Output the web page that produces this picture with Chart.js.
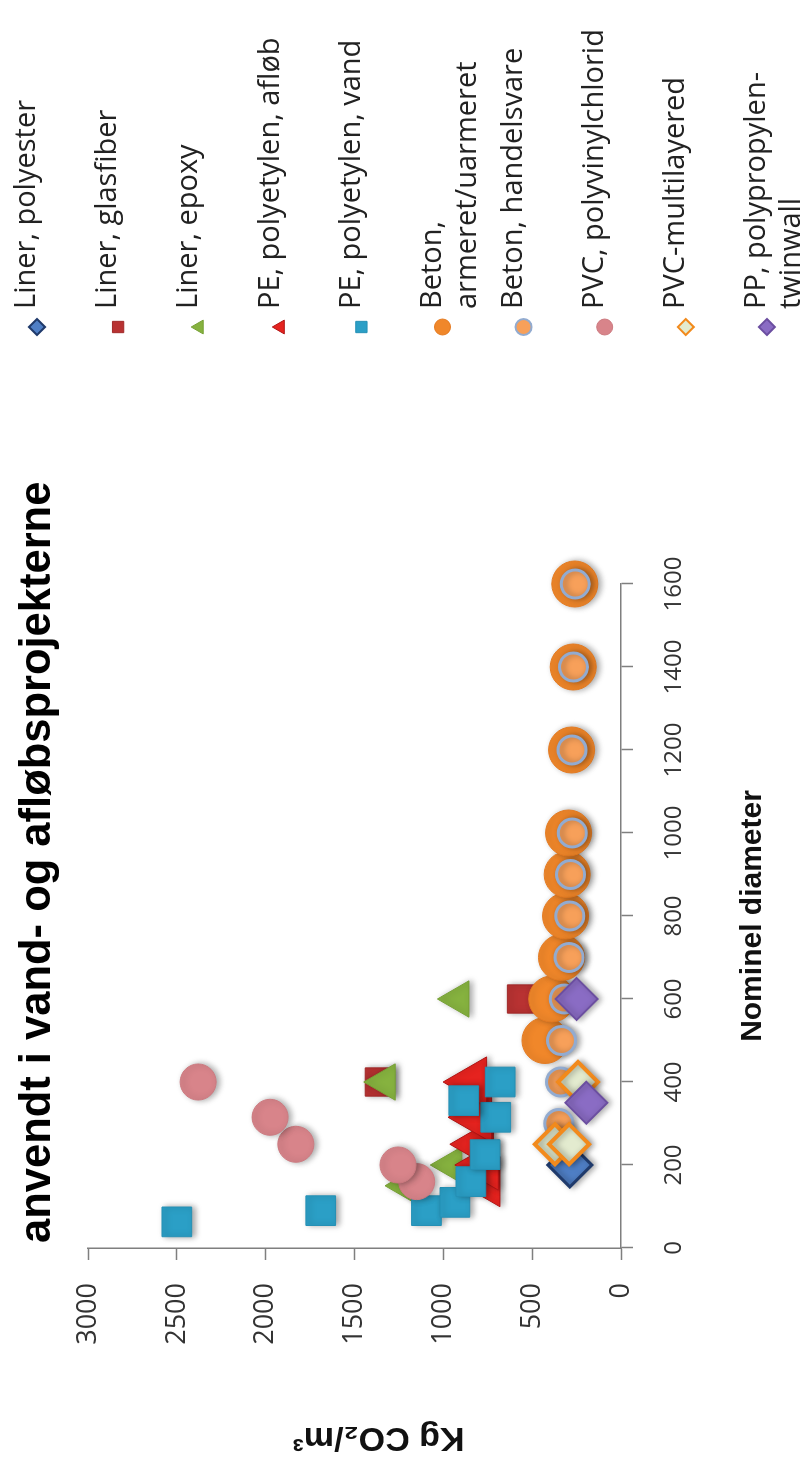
<!DOCTYPE html>
<html lang="da">
<head>
<meta charset="UTF-8">
<title>Kg CO2/m3 efter nominel diameter</title>
<script src="https://cdn.jsdelivr.net/npm/chart.js"></script>
<style>
  html, body { margin: 0; padding: 0; background: #ffffff; overflow: hidden; }
  body { width: 803px; height: 1459px; position: relative; }
  /* the chart is drawn landscape and turned a quarter to the left */
  .turn { position: absolute; left: 0; top: 1459px; width: 1459px; height: 803px; transform-origin: 0 0; transform: rotate(-90deg); }
  canvas { display: block; }
</style>
</head>
<body>
<div class="turn"><canvas id="co2" width="1459" height="803"></canvas></div>
<script>
const chartTitle = 'anvendt i vand- og afløbsprojekterne';
const xTitle = 'Nominel diameter';
const yTitle = 'Kg CO₂/m³';
const diameterTicks = [0, 200, 400, 600, 800, 1000, 1200, 1400, 1600];
const valueTicks = [0, 500, 1000, 1500, 2000, 2500, 3000];

const seriesLines = [
  ['Liner, polyester'],
  ['Liner, glasfiber'],
  ['Liner, epoxy'],
  ['PE, polyetylen, afløb'],
  ['PE, polyetylen, vand'],
  ['Beton,', 'armeret/uarmeret'],
  ['Beton, handelsvare'],
  ['PVC, polyvinylchlorid'],
  ['PVC-multilayered'],
  ['PP, polypropylen-', 'twinwall']
];

// diameter (mm) / kg CO2 per m3
const polyesterD = [200];
const polyesterV = [288];
const glasfiberD = [400, 600];
const glasfiberV = [1360, 560];
const epoxyD = [150, 200, 400, 600];
const epoxyV = [1210, 955, 1330, 915];
const peAflobD = [160, 200, 250, 315, 400];
const peAflobV = [763, 772, 800, 810, 838];
const peVandD = [63, 90, 90, 110, 160, 225, 315, 355, 400];
const peVandV = [2500, 1690, 1095, 935, 845, 765, 705, 885, 680];
const betonArmD = [500, 600, 700, 800, 900, 1000, 1200, 1400, 1600];
const betonArmV = [428, 390, 335, 312, 303, 295, 278, 269, 260];
const betonHandD = [300, 400, 500, 600, 700, 800, 900, 1000, 1200, 1400, 1600];
const betonHandV = [350, 340, 335, 320, 292, 288, 284, 274, 276, 268, 258];
const pvcD = [160, 200, 250, 315, 400];
const pvcV = [1150, 1255, 1830, 1975, 2380];
const pvcMultiD = [250, 250, 400];
const pvcMultiV = [372, 292, 242];
const ppD = [350, 600];
const ppV = [195, 250];

const seriesData = [
  [polyesterD, polyesterV], [glasfiberD, glasfiberV], [epoxyD, epoxyV],
  [peAflobD, peAflobV], [peVandD, peVandV], [betonArmD, betonArmV],
  [betonHandD, betonHandV], [pvcD, pvcV], [pvcMultiD, pvcMultiV], [ppD, ppV]
];

const looks = [
  { style: 'rectRot',  r: 22, fill: '#4f7fc6', line: '#1f3a6b', w: 3 },
  { style: 'rect',     r: 20, fill: '#b83232', line: '#a02828', w: 1 },
  { style: 'triangle', r: 21, fill: '#86b23f', line: '#76a035', w: 1 },
  { style: 'triangle', r: 29, fill: '#e5231f', line: '#b01515', w: 1 },
  { style: 'rect',     r: 21, fill: '#2b9fc6', line: '#2590b5', w: 1 },
  { style: 'circle',   r: 23, fill: '#f0872a', line: '#e47b22', w: 1 },
  { style: 'circle',   r: 14, fill: '#f7a05a', line: '#92abd0', w: 3 },
  { style: 'circle',   r: 18, fill: '#d8848a', line: '#cc7a80', w: 1 },
  { style: 'rectRot',  r: 20, fill: '#e3ebcf', line: '#f28a1c', w: 4 },
  { style: 'rectRot',  r: 21, fill: '#8a6cc4', line: '#6b4ea0', w: 2 }
];

const datasets = seriesData.map(([d, v], i) => ({
  label: seriesLines[i].join(' '),
  data: d.map((x, k) => ({ x, y: v[k] })),
  pointStyle: looks[i].style,
  pointRadius: looks[i].r,
  pointHoverRadius: looks[i].r,
  pointBackgroundColor: looks[i].fill,
  pointBorderColor: looks[i].line,
  pointBorderWidth: looks[i].w,
  order: seriesData.length - i,
  clip: false
}));

const shadow = {
  id: 'shadow',
  beforeDatasetDraw(chart) {
    const c = chart.ctx;
    c.save();
    c.shadowColor = 'rgba(0,0,0,0.35)';
    c.shadowBlur = 6;
    c.shadowOffsetX = 0;
    c.shadowOffsetY = 3;
  },
  afterDatasetDraw(chart) { chart.ctx.restore(); }
};

// chart title and the value-axis title, placed like the original
const headline = {
  id: 'headline',
  afterDraw(chart) {
    const c = chart.ctx;
    const a = chart.chartArea;
    c.save();
    c.fillStyle = '#000';
    c.font = 'bold 43.5px "Liberation Sans", Arial, sans-serif';
    c.textAlign = 'left';
    c.textBaseline = 'alphabetic';
    c.fillText(chartTitle, a.left + 5, 50);
    c.translate(22, (a.top + a.bottom) / 2 + 24);
    c.rotate(-Math.PI / 2);
    c.fillStyle = '#111';
    c.font = 'bold 34px "Liberation Sans", Arial, sans-serif';
    c.textAlign = 'center';
    c.textBaseline = 'middle';
    c.fillText(yTitle, 0, 0);
    c.restore();
  }
};

const sideLegend = {
  id: 'sideLegend',
  afterDraw(chart) {
    const c = chart.ctx;
    const mx = chart.chartArea.right + 257;
    const top = 37, step = 81.1, lineH = 35;
    c.save();
    chart.data.datasets.forEach((ds, i) => {
      const y = top + i * step;
      c.fillStyle = ds.pointBackgroundColor;
      c.strokeStyle = ds.pointBorderColor;
      c.lineWidth = Math.min(ds.pointBorderWidth, 2);
      Chart.helpers.drawPoint(c, { pointStyle: ds.pointStyle, rotation: 0, radius: 8, borderWidth: c.lineWidth }, mx, y);
      c.fillStyle = '#222';
      c.font = '29px "Open Sans", sans-serif';
      c.textAlign = 'left';
      c.textBaseline = 'middle';
      seriesLines[i].forEach((t, k) => c.fillText(t, mx + 18, y - 10 + k * lineH));
    });
    c.restore();
  }
};

new Chart(document.getElementById('co2'), {
  type: 'scatter',
  data: { datasets },
  options: {
    responsive: false,
    animation: false,
    events: [],
    layout: { padding: { top: 88, right: 584, bottom: 32, left: 0 } },
    plugins: { legend: { display: false }, tooltip: { enabled: false } },
    scales: {
      x: {
        type: 'linear', min: 0, max: 1600,
        afterBuildTicks: s => { s.ticks = diameterTicks.map(value => ({ value })); },
        afterFit: s => { s.height = 150; },
        grid: { drawOnChartArea: false, drawTicks: true, tickLength: 12, tickColor: '#7f7f7f', tickWidth: 1.5 },
        border: { color: '#7f7f7f', width: 1.5 },
        ticks: { padding: 27, color: '#333', font: { family: 'Open Sans', size: 24 }, callback: v => String(v) },
        title: { display: true, text: xTitle, color: '#111', font: { family: 'Liberation Sans', size: 30, weight: 'bold' }, padding: { top: 46, bottom: 0 } }
      },
      y: {
        type: 'linear', min: 0, max: 3000,
        afterBuildTicks: s => { s.ticks = valueTicks.map(value => ({ value })); },
        afterFit: s => { s.width = 211; },
        grid: { drawOnChartArea: false, drawTicks: true, tickLength: 12, tickColor: '#7f7f7f', tickWidth: 1.5 },
        border: { color: '#7f7f7f', width: 1.5 },
        ticks: { padding: 23, color: '#333', font: { family: 'Open Sans', size: 27 }, callback: v => String(v) },
        title: { display: false }
      }
    }
  },
  plugins: [shadow, headline, sideLegend]
});
</script>
</body>
</html>
